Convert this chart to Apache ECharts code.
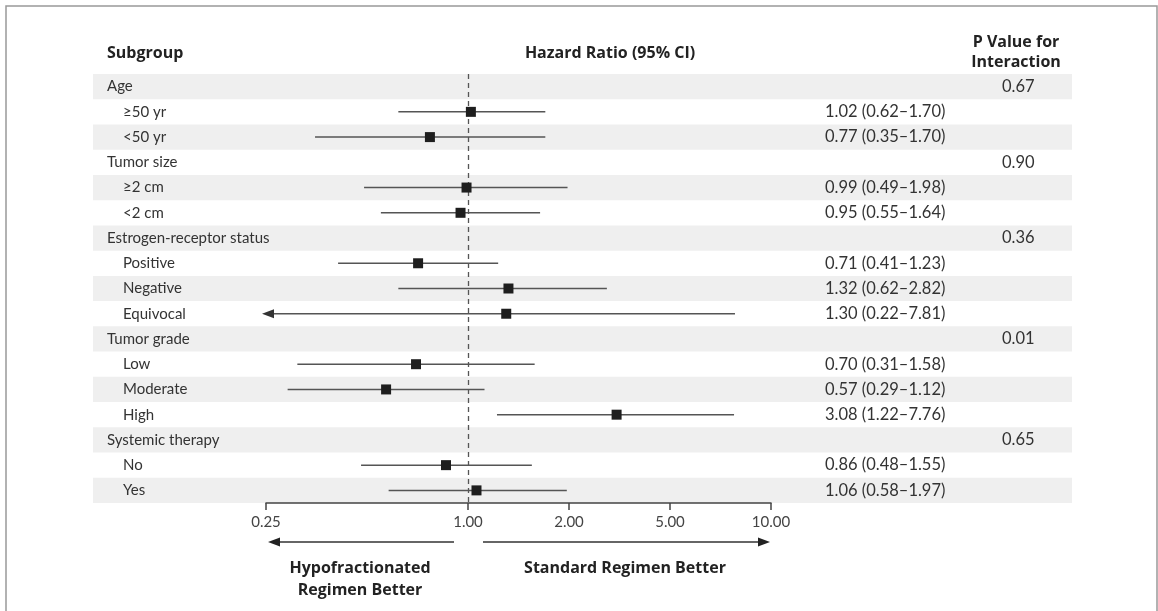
<!DOCTYPE html>
<html>
<head>
<meta charset="utf-8">
<script src="https://cdn.jsdelivr.net/npm/echarts@6/dist/echarts.min.js"></script>
<style>
html,body{margin:0;padding:0;background:#fff;}
#main{width:1158px;height:611px;}
</style>
</head>
<body>
<div id="main"></div>
<script>
// ---- data ----
const categories = ['Age','≥50 yr','<50 yr','Tumor size','≥2 cm','<2 cm','Estrogen-receptor status','Positive','Negative','Equivocal','Tumor grade','Low','Moderate','High','Systemic therapy','No','Yes'];
const levels     = [0,1,1,0,1,1,0,1,1,1,0,1,1,1,0,1,1];
const hazard     = [null,1.02,0.77,null,0.99,0.95,null,0.71,1.32,1.30,null,0.70,0.57,3.08,null,0.86,1.06];
const ciLow      = [null,0.62,0.35,null,0.49,0.55,null,0.41,0.62,0.22,null,0.31,0.29,1.22,null,0.48,0.58];
const ciHigh     = [null,1.70,1.70,null,1.98,1.64,null,1.23,2.82,7.81,null,1.58,1.12,7.76,null,1.55,1.97];
const pValues    = ['0.67','','','0.90','','','0.36','','','','0.01','','','','0.65','',''];
const tickValues = [0.25,1,2,5,10];
const tickLabels = ['0.25','1.00','2.00','5.00','10.00'];

// axis transform: piecewise log, matching the figure's tick spacing
function f(v){
  if (v <= 2) return Math.log2(v);
  if (v <= 5) return 1 + Math.log(v/2)/Math.log(2.5);
  return 2 + Math.log2(v/5);
}
const axisMin = f(tickValues[0]);
const axisMax = f(tickValues[tickValues.length-1]);
const tickPos = tickValues.map(f);

const FONT = 'Lato';
const BFONT = 'Open Sans';
const TXT = '#333';

const forestData = [];
hazard.forEach((h,i)=>{
  if (h != null) forestData.push([f(h), i, f(ciLow[i]), f(ciHigh[i]), ciLow[i] < tickValues[0] ? 1 : 0]);
});

const hrText = hazard.map((h,i)=> h == null ? '' : h.toFixed(2)+' ('+ciLow[i].toFixed(2)+'–'+ciHigh[i].toFixed(2)+')');

const chart = echarts.init(document.getElementById('main'), null, {renderer:'canvas'});

const TOP = 74, HEIGHT = 429;

const option = {
  animation:false,
  grid:[
    {left:266, width:505, top:TOP, height:HEIGHT},
    {left:93, width:979, top:TOP, height:HEIGHT},
    {left:825, width:170, top:TOP, height:HEIGHT},
    {left:1002, width:60, top:TOP, height:HEIGHT}
  ],
  xAxis:[
    {gridIndex:0, type:'value', min:axisMin, max:axisMax,
     axisLine:{show:true, lineStyle:{color:'#444', width:1.5}},
     axisTick:{show:true, length:7, customValues:tickPos, lineStyle:{color:'#444', width:1.5}},
     axisLabel:{show:true, customValues:tickPos, margin:12, color:'#444', fontFamily:FONT, fontSize:15,
       formatter:(v)=>{ const k = tickPos.findIndex(t=>Math.abs(t-v)<1e-9); return k>=0 ? tickLabels[k] : ''; }},
     splitLine:{show:false}},
    {gridIndex:1, type:'value', show:false, min:0, max:1},
    {gridIndex:2, type:'value', show:false, min:0, max:1},
    {gridIndex:3, type:'value', show:false, min:0, max:1}
  ],
  yAxis:[
    {gridIndex:0, type:'category', inverse:true, data:categories, show:false},
    {gridIndex:1, type:'category', inverse:true, data:categories, z:0,
     axisLine:{show:false}, axisTick:{show:false},
     splitArea:{show:true, interval:0, areaStyle:{color:['#efefef','rgba(255,255,255,0)']}},
     axisLabel:{show:true, inside:true, interval:0, margin:14, color:TXT, fontFamily:FONT, fontSize:15,
       formatter:(v,idx)=> levels[idx] ? '{s|'+v+'}' : '{g|'+v+'}',
       rich:{ g:{color:TXT, fontFamily:FONT, fontSize:15}, s:{color:TXT, fontFamily:FONT, fontSize:15, padding:[0,0,0,16]} } }},
    {gridIndex:2, type:'category', inverse:true, data:hrText,
     axisLine:{show:false}, axisTick:{show:false},
     axisLabel:{show:true, inside:true, interval:0, margin:0, color:TXT, fontFamily:FONT, fontSize:16.5}},
    {gridIndex:3, type:'category', inverse:true, data:pValues,
     axisLine:{show:false}, axisTick:{show:false},
     axisLabel:{show:true, inside:true, interval:0, margin:0, color:TXT, fontFamily:FONT, fontSize:16.5}}
  ],
  series:[
    {
      type:'custom', xAxisIndex:0, yAxisIndex:0, z:5, clip:false,
      data: forestData,
      renderItem:(params, api)=>{
        const yi = api.value(1);
        const c = api.coord([api.value(0), yi]);
        const lo = api.value(4) ? axisMin : api.value(2);
        const pLo = api.coord([lo, yi]);
        const pHi = api.coord([api.value(3), yi]);
        const children = [];
        children.push({type:'line', shape:{x1:pLo[0], y1:c[1], x2:pHi[0], y2:c[1]}, style:{stroke:'#555', lineWidth:1.5}});
        if (api.value(4)) {
          const tx = pLo[0] - 4;
          children.push({type:'polygon', shape:{points:[[tx,c[1]],[tx+12,c[1]-4.5],[tx+12,c[1]+4.5]]}, style:{fill:'#333'}});
        }
        children.push({type:'rect', shape:{x:c[0]-5, y:c[1]-5, width:10, height:10}, style:{fill:'#1e1e1e'}});
        return {type:'group', children};
      },
      markLine:{
        silent:true, symbol:['none','none'], label:{show:false},
        lineStyle:{color:'#555', type:[5,4], width:1.3},
        data:[{xAxis:f(1)}]
      }
    }
  ]
};
chart.setOption(option);

// annotations positioned from the axis scale
const xL = chart.convertToPixel({xAxisIndex:0}, f(tickValues[0]));
const x1 = chart.convertToPixel({xAxisIndex:0}, f(1));
const xR = chart.convertToPixel({xAxisIndex:0}, f(tickValues[tickValues.length-1]));
const AY = 542;
const boldFont = 'bold 16px "' + BFONT + '"';
chart.setOption({
  graphic:[
    {type:'rect', shape:{x:6, y:6, width:1151, height:700}, style:{fill:'none', stroke:'#999', lineWidth:1.5}, silent:true},
    {type:'text', x:107, y:53, style:{text:'Subgroup', font:boldFont, fill:'#222', textAlign:'left', textVerticalAlign:'middle'}},
    {type:'text', x:610, y:53, style:{text:'Hazard Ratio (95% CI)', font:boldFont, fill:'#222', textAlign:'center', textVerticalAlign:'middle'}},
    {type:'text', x:1016, y:52, style:{text:'P Value for\nInteraction', font:boldFont, lineHeight:20, fill:'#222', textAlign:'center', textVerticalAlign:'middle'}},
    // left arrow
    {type:'line', shape:{x1:x1-14, y1:AY, x2:xL+6, y2:AY}, style:{stroke:'#333', lineWidth:1.5}},
    {type:'polygon', shape:{points:[[xL+2,AY],[xL+14,AY-4.5],[xL+14,AY+4.5]]}, style:{fill:'#222'}},
    // right arrow
    {type:'line', shape:{x1:x1+15, y1:AY, x2:xR-6, y2:AY}, style:{stroke:'#333', lineWidth:1.5}},
    {type:'polygon', shape:{points:[[xR-1,AY],[xR-13,AY-4.5],[xR-13,AY+4.5]]}, style:{fill:'#222'}},
    {type:'text', x:360, y:579, style:{text:'Hypofractionated\nRegimen Better', font:boldFont, lineHeight:22, fill:'#222', textAlign:'center', textVerticalAlign:'middle'}},
    {type:'text', x:625, y:568, style:{text:'Standard Regimen Better', font:boldFont, fill:'#222', textAlign:'center', textVerticalAlign:'middle'}}
  ]
});
</script>
</body>
</html>
